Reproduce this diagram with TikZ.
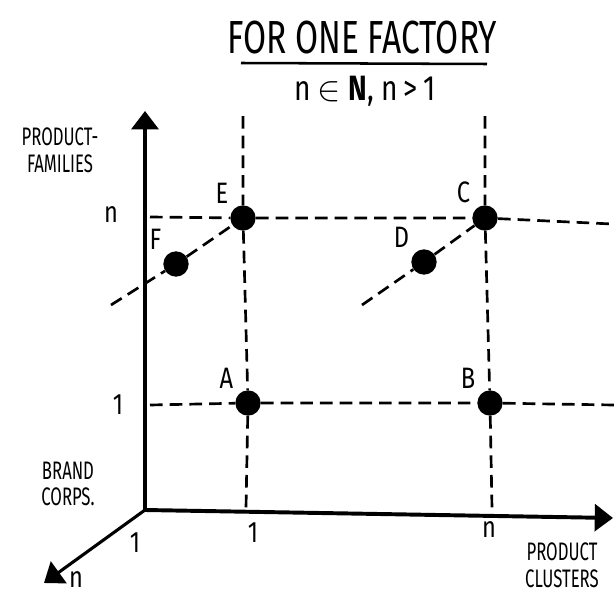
\documentclass[tikz,border=0pt]{standalone}
\usepackage{amsmath,amssymb}
\usepackage{fontspec}
\newfontfamily\sketchfont[FakeStretch=0.8]{Fira Sans}
\newfontfamily\sketchnarrow[FakeStretch=0.66]{Fira Sans}
\newfontfamily\sketchtitle[FakeStretch=0.72]{Fira Sans}
\usetikzlibrary{arrows.meta}

\begin{document}
\begin{tikzpicture}[
    x=0.025cm, y=-0.025cm,
    axis/.style={line width=2.8pt, line cap=round,
      -{Triangle[width=19pt,length=13pt]}},
    grid/.style={line width=1.9pt, dash pattern=on 9pt off 5pt},
    dot/.style={circle, fill=black, inner sep=0pt, minimum size=18pt},
    tag/.style={font=\sketchfont\fontsize{21}{21}\selectfont, inner sep=1pt},
    axlabel/.style={font=\sketchnarrow\fontsize{18}{19}\selectfont, align=center,
      inner sep=0pt},
    ttl/.style={font=\sketchtitle\fontsize{33}{33}\selectfont, inner sep=0pt},
    pt/.style={dot, label={[tag, label distance=4pt]135:#1}},
  ]

  \useasboundingbox (0,0) rectangle (614,598);

  % title
  \node[ttl] (title) at (362,38) {FOR ONE FACTORY};
  \coordinate (ul1) at (241,63);
  \coordinate (ul2) at (487,64);
  \draw[line width=1.8pt] (ul1) -- (ul2);
  \node[font=\sketchfont\fontsize{25}{25}\selectfont] (cond) at (365,91)
    {n $\in$ \textbf{N}, n\,>\,1};

  % axes
  \coordinate (O)    at (145,510);
  \coordinate (ytip) at (145,111);
  \coordinate (xtip) at (613,518);
  \coordinate (ztip) at (44,583);
  \draw[axis] (O) -- (ytip);
  \draw[axis] (O) -- (xtip);
  \draw[axis, line width=2.2pt] (O) -- (ztip);

  \node[axlabel] (fam) at (60,150) {PRODUCT-\\FAMILIES};
  \node[axlabel] (brd) at (68,484) {BRAND\\CORPS.};
  \node[axlabel] (cls) at (562,565) {PRODUCT\\CLUSTERS};

  \node[tag] (y1) at (118,405) {1};
  \node[tag] (yn) at (111,215) {n};
  \node[tag] (x1) at (253,533) {1};
  \node[tag] (xn) at (489,530) {n};
  \node[tag] (z1) at (135,543) {1};
  \node[tag] (zn) at (76,580) {n};

  % points
  \node[pt=E] (E) at (243,218) {};
  \node[pt=C] (C) at (485,218) {};
  \node[pt=F] (F) at (176,264) {};
  \node[pt=D] (D) at (424,262) {};
  \node[pt=A] (A) at (248,403) {};
  \node[pt=B] (B) at (490,403) {};

  % dashed guides
  \coordinate (vl1) at (243,116);
  \coordinate (vl2) at (246,508);
  \coordinate (vr1) at (485,116);
  \coordinate (vr2) at (492,508);
  \coordinate (ht1) at (150,217);
  \coordinate (ht2) at (612,224);
  \coordinate (hb1) at (150,405);
  \coordinate (hb2) at (614,405);
  \coordinate (dl)  at (111,305);
  \coordinate (dr)  at (362,305);

  \draw[grid] (vl1) -- (E) -- (A) -- (vl2);
  \draw[grid] (vr1) -- (C) -- (B) -- (vr2);
  \draw[grid] (ht1) -- (E) -- (C) -- (ht2);
  \draw[grid] (hb1) -- (A) -- (B) -- (hb2);
  \draw[grid] (dl) -- (F) -- (E);
  \draw[grid] (dr) -- (D) -- (C);
\end{tikzpicture}
\end{document}
